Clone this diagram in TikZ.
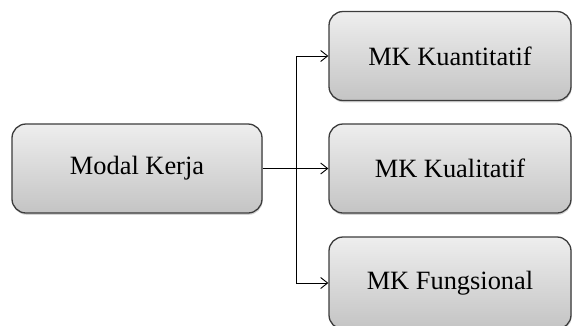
\documentclass[tikz,border=0pt]{standalone}
\usepackage{fontspec}
\setmainfont{Liberation Serif}
\usetikzlibrary{arrows.meta,shadows}
\definecolor{boxtop}{RGB}{238,238,238}
\definecolor{boxbottom}{RGB}{196,196,196}
\definecolor{boxline}{RGB}{60,60,60}
\tikzset{
  cardbox/.style={
    draw=boxline, line width=1.3bp, rounded corners=14bp,
    top color=boxtop, bottom color=boxbottom,
    minimum height=89bp, inner sep=0pt,
    font=\fontsize{26.5}{31}\selectfont,
    drop shadow={shadow xshift=0.6bp, shadow yshift=-1.8bp, opacity=0.35}
  },
  link/.style={draw=black, line width=0.9bp},
  linkarrow/.style={link, -{Straight Barb[length=7bp, width=11bp, line width=0.9bp]}}
}
\begin{document}
\begin{tikzpicture}[x=1bp, y=-1bp]
  \useasboundingbox (0,0) rectangle (572,325);
  \clip (0,0) rectangle (572,325);
  % source box
  \node[cardbox, minimum width=250bp] (modal) at (137,168.5) {Modal Kerja};
  % target boxes
  \node[cardbox, minimum width=242bp] (kuan) at (450,56) {MK Kuantitatif};
  \node[cardbox, minimum width=242bp] (kual) at (450,168.5) {MK Kualitatif};
  \node[cardbox, minimum width=242bp, minimum height=92bp] (fung) at (450,283) {MK Fungsional};
  % branching connectors
  \coordinate (fork) at (296.7,168.5);
  \draw[link] (modal.east) -- (fork);
  \draw[linkarrow] (fork) -- (kual.west);
  \draw[linkarrow] (fork) |- (kuan.west);
  \draw[linkarrow] (fork) |- (fung.west);
\end{tikzpicture}
\end{document}
